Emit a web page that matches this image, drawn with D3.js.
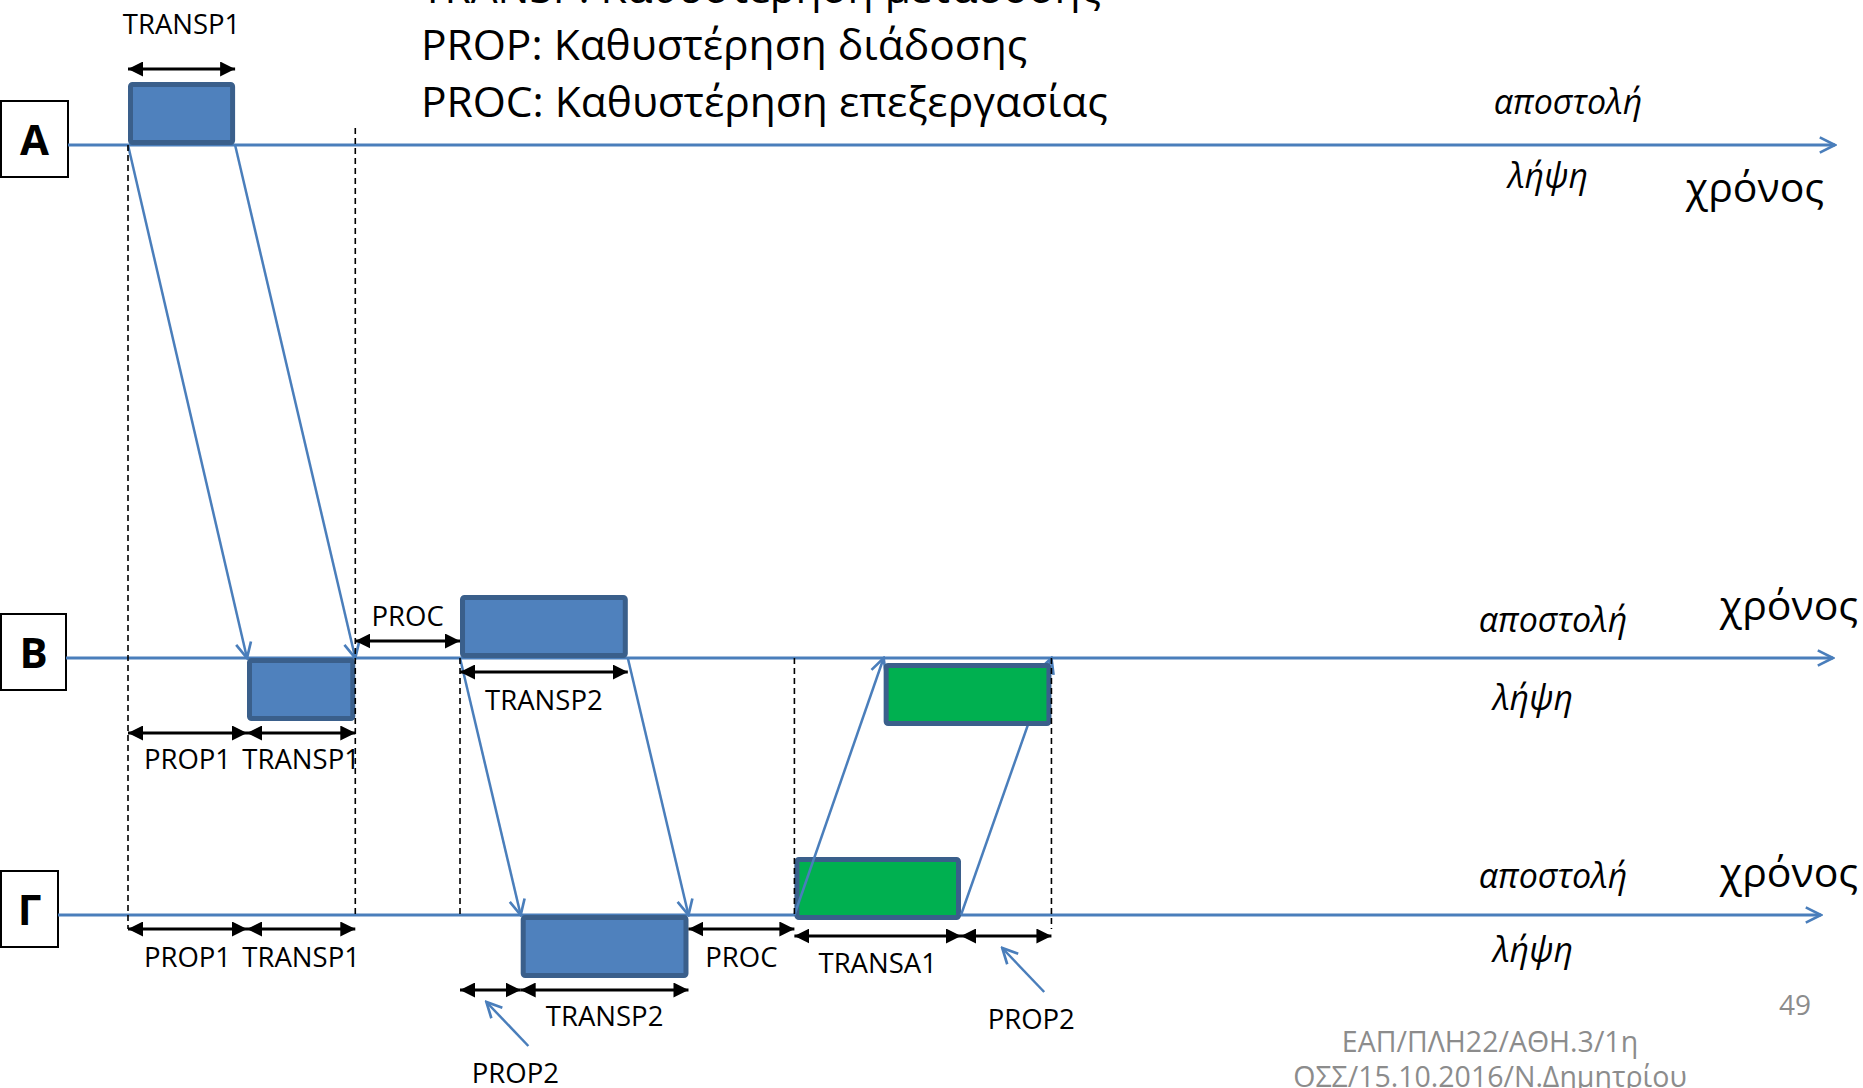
<!DOCTYPE html>
<html>
<head>
<meta charset="utf-8">
<script src="https://cdn.jsdelivr.net/npm/d3@7"></script>
<style>
  body { margin: 0; background: #fff; }
  svg { display: block; }
  text { font-family: "Open Sans", sans-serif; }
</style>
</head>
<body>
<div class="diagram"></div>
<script>

// stations (time lines)
const lanes = ["A", "B", "Γ"];

// frames: who sends to whom, and when (time units)
const frameFrom = ["A", "B", "Γ"];
const frameTo = ["B", "Γ", "B"];
const frameSend = [[0, 9], [27.9, 42], [56, 70]];
const frameRecv = [[10, 19.1], [33, 47.1], [63.5, 77.6]];
const frameKind = ["data", "data", "ack"];

// delay spans shown as double arrows
const spanLabel = ["TRANSP1", "PROC", "TRANSP2", "PROP1", "TRANSP1", "PROP1", "TRANSP1", "PROC", "TRANSA1", "PROP2", "PROP2", "TRANSP2"];
const spanLane = ["A", "B", "B", "B", "B", "Γ", "Γ", "Γ", "Γ", "Γ", "Γ", "Γ"];
const spanTime = [[0, 9], [19.1, 27.9], [27.9, 42], [0, 10], [10, 19.1], [0, 10], [10, 19.1], [47.1, 56], [56, 70], [70, 77.6], [27.9, 33], [33, 47.1]];
const spanSlot = ["top", "gap", "under", "low", "low", "under", "under", "under", "rim", "rim", "low", "low"];
const spanCallout = [false, false, false, false, false, false, false, false, false, true, true, false];

// dashed guide lines
const guideTime = [0, 19.1, 27.9, 56, 77.6];
const guideFrom = ["A", "A", "B", "B", "B"];

const legendLines = ["TRANSP: Καθυστέρηση μετάδοσης", "PROP: Καθυστέρηση διάδοσης", "PROC: Καθυστέρηση επεξεργασίας"];
const sendWord = "αποστολή";
const recvWord = "λήψη";
const timeWord = "χρόνος";
const footerLines = ["ΕΑΠ/ΠΛΗ22/ΑΘΗ.3/1η", "ΟΣΣ/15.10.2016/Ν.Δημητρίου"];
const pageNumber = "49";

const width = 1863, height = 1088;
const lineBlue = "#4a7ebb";
const boxFill = { data: "#4f81bd", ack: "#00b050" };
const boxDrop = { data: 0, ack: 5 };
const slotDy = { top: -76, gap: -17, under: 14, rim: 21, low: 75 };
const labelDy = { top: -35, gap: -15, under: 38, rim: 37, low: 36 };
const laneBox = { A: 67, B: 65, "Γ": 57 };
const laneEnd = { A: 1835, B: 1833, "Γ": 1821 };
// right-hand words: [dy αποστολή, dy λήψη, dy χρόνος, x αποστολή, x λήψη, x χρόνος]
const laneWords = {
  A: [-31, 43, 57, 1568, 1548, 1755],
  B: [-26, 52, -38, 1553, 1533, 1789],
  "Γ": [-27, 47, -28, 1553, 1533, 1789]
};

const x = d3.scaleLinear().domain([0, 10]).range([128, 247]);
const y = d3.scaleOrdinal().domain(lanes).range([145, 658, 915]);

const svg = d3.select(".diagram").append("svg")
    .attr("width", width)
    .attr("height", height);

const defs = svg.append("defs");
defs.append("marker")
    .attr("id", "open")
    .attr("viewBox", "0 0 10 10")
    .attr("refX", 9).attr("refY", 5)
    .attr("markerWidth", 19).attr("markerHeight", 19)
    .attr("markerUnits", "userSpaceOnUse")
    .attr("orient", "auto")
  .append("path")
    .attr("d", "M1,1 L9,5 L1,9")
    .attr("fill", "none")
    .attr("stroke", lineBlue)
    .attr("stroke-width", 1.4);
defs.append("marker")
    .attr("id", "tri")
    .attr("viewBox", "0 0 10 10")
    .attr("refX", 10).attr("refY", 5)
    .attr("markerWidth", 15).attr("markerHeight", 15)
    .attr("markerUnits", "userSpaceOnUse")
    .attr("orient", "auto-start-reverse")
  .append("path")
    .attr("d", "M0,0 L10,5 L0,10 Z")
    .attr("fill", "#000");

// legend, partly cut by the top edge
svg.append("g").selectAll("text")
    .data(legendLines)
    .enter().append("text")
    .attr("x", 421)
    .attr("y", (d, i) => 3 + i * 57)
    .attr("font-size", 42.5)
    .text(d => d);

// lane labels
const laneG = svg.append("g").selectAll("g")
    .data(lanes)
    .enter().append("g");
laneG.append("rect")
    .attr("x", 1)
    .attr("y", d => y(d) - 44)
    .attr("width", d => laneBox[d])
    .attr("height", 76)
    .attr("fill", "#fff")
    .attr("stroke", "#000")
    .attr("stroke-width", 2);
laneG.append("text")
    .attr("x", d => 1 + laneBox[d] / 2)
    .attr("y", d => y(d) + 10)
    .attr("text-anchor", "middle")
    .attr("font-size", 42)
    .attr("font-weight", "bold")
    .text(d => d);

// time axes
laneG.append("line")
    .attr("x1", d => laneBox[d] + 1)
    .attr("x2", d => laneEnd[d])
    .attr("y1", d => y(d))
    .attr("y2", d => y(d))
    .attr("stroke", lineBlue)
    .attr("stroke-width", 3)
    .attr("marker-end", "url(#open)");

laneG.append("text")
    .attr("x", d => laneWords[d][3])
    .attr("y", d => y(d) + laneWords[d][0])
    .attr("text-anchor", "middle")
    .attr("font-size", 34)
    .attr("font-style", "italic")
    .text(sendWord);
laneG.append("text")
    .attr("x", d => laneWords[d][4])
    .attr("y", d => y(d) + laneWords[d][1])
    .attr("text-anchor", "middle")
    .attr("font-size", 34)
    .attr("font-style", "italic")
    .text(recvWord);
laneG.append("text")
    .attr("x", d => laneWords[d][5])
    .attr("y", d => y(d) + laneWords[d][2])
    .attr("text-anchor", "middle")
    .attr("font-size", 41)
    .text(timeWord);

const frames = frameFrom.map((f, i) => ({
  from: f, to: frameTo[i], send: frameSend[i], recv: frameRecv[i], kind: frameKind[i]
}));

function drawBox(g, t, top, kind) {
  g.append("rect")
      .attr("x", x(t[0]) + 2.5)
      .attr("y", top + 2.5)
      .attr("width", x(t[1]) - x(t[0]) - 5)
      .attr("height", 58)
      .attr("rx", 2)
      .attr("fill", boxFill[kind])
      .attr("stroke", "#3a5f8b")
      .attr("stroke-width", 5);
}

// sent frames sit above the sender's line
const sendG = svg.append("g");
frames.forEach(d => drawBox(sendG, d.send, y(d.from) - 63 + boxDrop[d.kind], d.kind));

// propagation of the first and last bit
const diagG = svg.append("g");
frames.forEach(d => {
  [0, 1].forEach(k => {
    diagG.append("line")
        .attr("x1", x(d.send[k]))
        .attr("y1", y(d.from))
        .attr("x2", x(d.recv[k]))
        .attr("y2", y(d.to))
        .attr("stroke", lineBlue)
        .attr("stroke-width", 2.5)
        .attr("marker-end", "url(#open)");
  });
});

// received frames sit below the receiver's line
const recvG = svg.append("g");
frames.forEach(d => drawBox(recvG, d.recv, y(d.to) + boxDrop[d.kind], d.kind));

// dashed guides
svg.append("g").selectAll("line")
    .data(guideTime)
    .enter().append("line")
    .attr("x1", d => x(d))
    .attr("x2", d => x(d))
    .attr("y1", (d, i) => y(guideFrom[i]) - (guideFrom[i] === "A" && d > 0 ? 17 : 0))
    .attr("y2", (d, i) => y("Γ") + (i === 0 || i === guideTime.length - 1 ? 14 : 0))
    .attr("stroke", "#000")
    .attr("stroke-width", 1.6)
    .attr("stroke-dasharray", "6,4");

// delay spans
const spans = spanLabel.map((s, i) => ({
  label: s, lane: spanLane[i], t: spanTime[i], slot: spanSlot[i], callout: spanCallout[i]
}));
const spanG = svg.append("g").selectAll("g")
    .data(spans)
    .enter().append("g");
spanG.append("line")
    .attr("x1", d => x(d.t[0]))
    .attr("x2", d => x(d.t[1]))
    .attr("y1", d => y(d.lane) + slotDy[d.slot])
    .attr("y2", d => y(d.lane) + slotDy[d.slot])
    .attr("stroke", "#000")
    .attr("stroke-width", 3)
    .attr("marker-start", "url(#tri)")
    .attr("marker-end", "url(#tri)");

const mid = d => x((d.t[0] + d.t[1]) / 2);
const ay = d => y(d.lane) + slotDy[d.slot];

spanG.append("text")
    .attr("x", d => d.callout ? mid(d) + 25 : mid(d))
    .attr("y", d => d.callout ? ay(d) + 93 : ay(d) + labelDy[d.slot])
    .attr("text-anchor", "middle")
    .attr("font-size", 27.5)
    .text(d => d.label);

spanG.filter(d => d.callout).append("line")
    .attr("x1", d => mid(d) + 38)
    .attr("y1", d => ay(d) + 56)
    .attr("x2", d => mid(d) - 4)
    .attr("y2", d => ay(d) + 12)
    .attr("stroke", lineBlue)
    .attr("stroke-width", 2.5)
    .attr("marker-end", "url(#open)");

// footer
svg.append("text")
    .attr("x", 1795)
    .attr("y", 1015)
    .attr("text-anchor", "middle")
    .attr("font-size", 28)
    .attr("fill", "#8c8c8c")
    .text(pageNumber);
svg.append("g").selectAll("text")
    .data(footerLines)
    .enter().append("text")
    .attr("x", 1490)
    .attr("y", (d, i) => 1052 + i * 35)
    .attr("text-anchor", "middle")
    .attr("font-size", 28.5)
    .attr("fill", "#8c8c8c")
    .text(d => d);
</script>
</body>
</html>
